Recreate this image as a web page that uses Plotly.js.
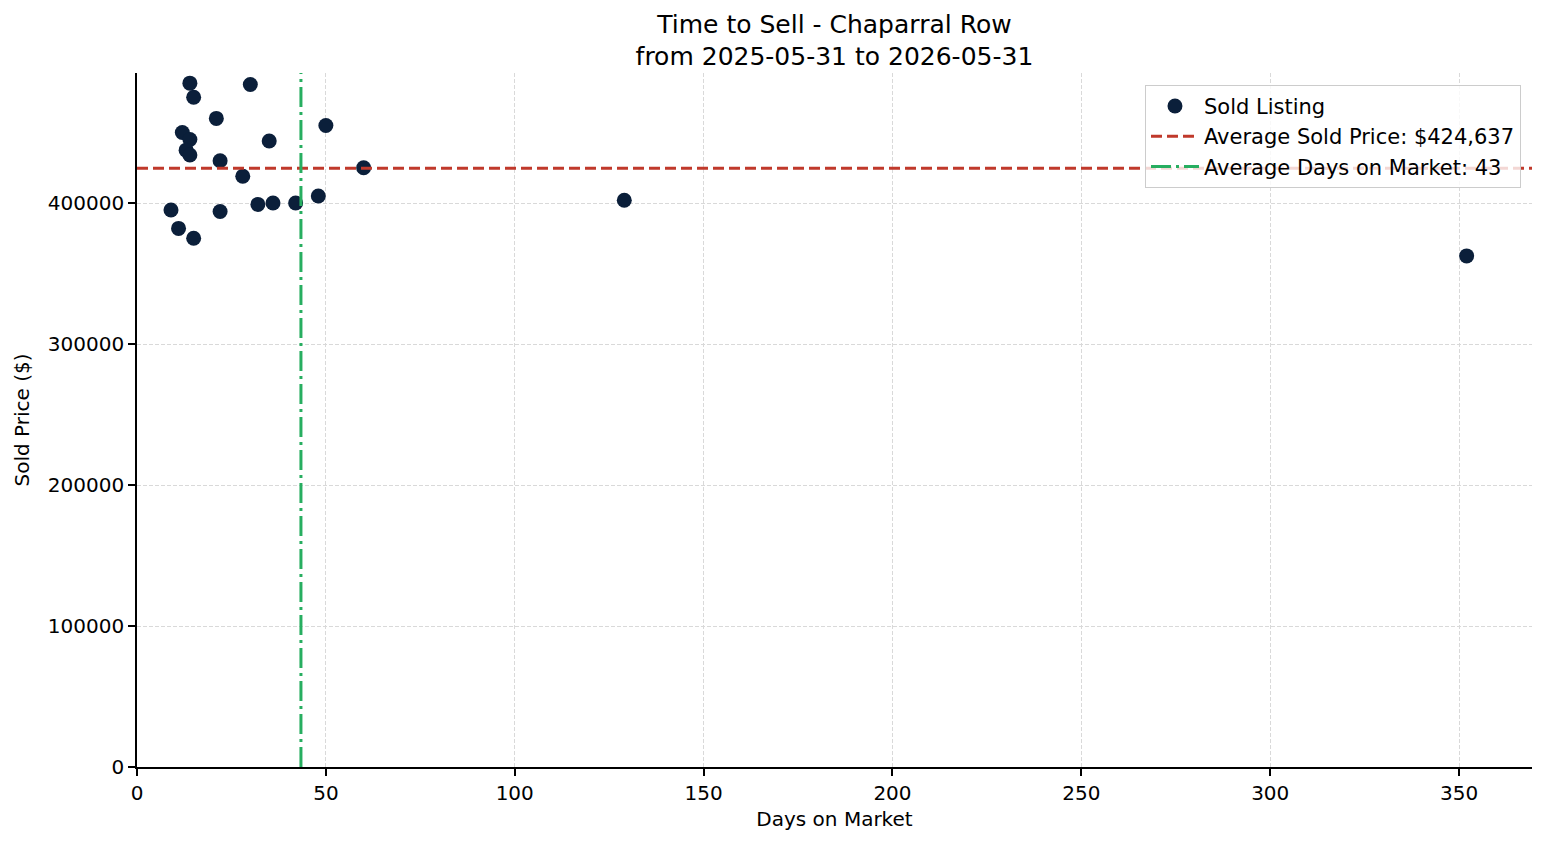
<!DOCTYPE html>
<html>
<head>
<meta charset="utf-8">
<script src="https://cdn.plot.ly/plotly-3.0.1.min.js"></script>
<style>html,body{margin:0;padding:0;background:#fff;}#chart{width:1547px;height:845px;}</style>
</head>
<body>
<div id="chart"></div>
<script>
const daysOnMarket = [14, 15, 30, 21, 50, 12, 14, 35, 13, 14, 22, 60, 28, 48, 32, 36, 42, 9, 22, 11, 15, 129, 352];
const soldPrice = [485000, 475000, 484000, 460000, 455000, 450000, 445000, 444000, 437500, 434000, 430000, 425000, 419000, 405000, 399000, 400000, 400000, 395000, 394000, 382000, 375000, 402000, 362500];
const avgSoldPrice = 424637;
const avgDays = 43.4;
const xMax = 369.3;
const yMax = 492200;

const font = "DejaVu Sans, sans-serif";
const traces = [
  {
    type: "scatter", mode: "markers", name: "Sold Listing",
    x: daysOnMarket, y: soldPrice,
    marker: {color: "#0b1f3a", size: 15, line: {width: 0}},
    cliponaxis: false
  },
  {
    type: "scatter", mode: "lines", name: "Average Sold Price: $" + avgSoldPrice.toLocaleString("en-US"),
    x: [0, xMax], y: [avgSoldPrice, avgSoldPrice],
    line: {color: "#c0392b", width: 3, dash: "11px,5px"}
  },
  {
    type: "scatter", mode: "lines", name: "Average Days on Market: " + Math.round(avgDays),
    x: [avgDays, avgDays], y: [0, yMax],
    line: {color: "#27ae60", width: 3, dash: "20px,5px,3px,5px"}
  }
];

const layout = {
  width: 1547, height: 845,
  margin: {l: 137, r: 15, t: 73, b: 78},
  paper_bgcolor: "#fff", plot_bgcolor: "#fff",
  font: {family: font, color: "#000", size: 20},
  title: {
    text: "Time to Sell - Chaparral Row<br>from 2025-05-31 to 2026-05-31",
    x: 0.5394, xanchor: "center", y: 0.961, yanchor: "middle",
    font: {family: font, size: 25, color: "#000"}
  },
  showlegend: true,
  legend: {
    x: 0.9921, xanchor: "right", y: 0.983, yanchor: "top",
    bgcolor: "rgba(255,255,255,0.8)", bordercolor: "#cccccc", borderwidth: 1,
    font: {family: font, size: 21, color: "#000"},
    itemwidth: 48,
    tracegroupgap: 0
  },
  xaxis: {
    range: [0, xMax], autorange: false,
    dtick: 50, tick0: 0,
    showline: true, linecolor: "#000", linewidth: 1.7,
    ticks: "outside", ticklen: 7, tickcolor: "#000", tickwidth: 1.7,
    showgrid: true, gridcolor: "#d9d9d9", griddash: "4px,2px", gridwidth: 0.8,
    zeroline: false, automargin: false,
    tickfont: {family: font, size: 20},
    title: {text: "Days on Market", font: {family: font, size: 20}, standoff: 8}
  },
  yaxis: {
    range: [0, yMax], autorange: false,
    dtick: 100000, tick0: 0, tickformat: "d",
    showline: true, linecolor: "#000", linewidth: 1.7,
    ticks: "outside", ticklen: 7, tickcolor: "#000", tickwidth: 1.7,
    showgrid: true, gridcolor: "#d9d9d9", griddash: "4px,2px", gridwidth: 0.8,
    zeroline: false, automargin: false,
    tickfont: {family: font, size: 20},
    title: {text: "Sold Price ($)", font: {family: font, size: 20}, standoff: 13}
  }
};

Plotly.newPlot("chart", traces, layout, {displayModeBar: false, responsive: false});
</script>
</body>
</html>
